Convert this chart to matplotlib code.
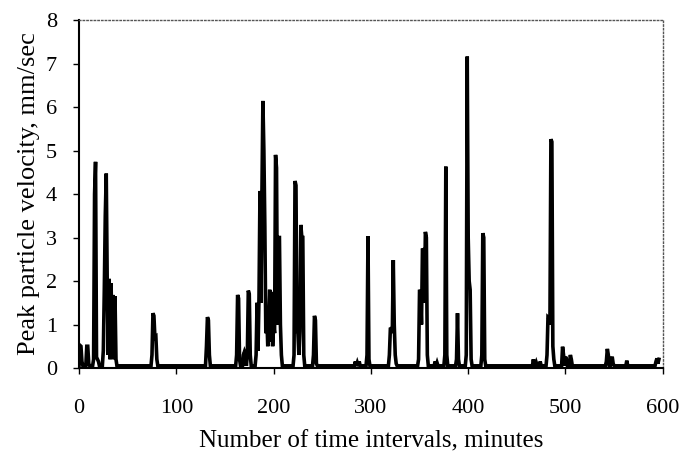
import numpy as np
import matplotlib.pyplot as plt

plt.rcParams['font.family'] = ['Liberation Serif', 'DejaVu Serif']

# readings above the quiet background level (minute, peak particle velocity mm/sec)
event_min = [1, 2, 3, 8, 9, 10,
             15, 16, 17, 18, 19, 20,
             25, 26, 27, 28, 29, 30, 31, 32, 33, 34, 35, 36, 37, 38,
             75, 76, 77, 78, 79, 80,
             131, 132, 133, 134,
             162, 163, 164, 165, 169, 170, 171, 173, 174, 175, 176,
             182, 183, 184, 185, 186, 187, 188, 189, 190, 191, 192, 193, 194,
             195, 196, 197, 198, 199, 200, 201, 202, 203, 204, 205, 206, 207, 208,
             221, 222, 223, 224, 225, 226, 227, 228, 229, 230, 231,
             241, 242, 243, 244,
             284, 286, 288,
             296, 297, 298,
             319, 320, 321, 322, 323, 324, 325, 326,
             349, 350, 351, 352, 353, 354, 355, 356, 357, 358,
             366, 368,
             376, 377, 378,
             388, 389, 390,
             398, 399, 400, 401, 402, 403,
             414, 415, 416, 417,
             467, 470, 474,
             481, 482, 483, 484, 485, 486, 487, 488,
             497, 498, 500, 501, 505, 506,
             542, 543, 544, 547, 548, 549,
             563,
             593, 594, 595, 596]
event_ppv = [0.52, 0.5, 0.15, 0.5, 0.5, 0.1,
             0.2, 4.0, 4.74, 0.25, 0.2, 0.15,
             0.4, 1.8, 3.5, 4.47, 2.0, 0.3, 2.05, 0.2, 1.95, 0.3, 1.68, 0.2, 1.65, 0.2,
             0.3, 1.26, 1.2, 0.7, 0.72, 0.2,
             0.5, 1.17, 1.1, 0.3,
             0.3, 1.68, 1.6, 0.2, 0.3, 0.37, 0.3, 0.3, 1.78, 1.7, 0.3,
             0.3, 1.5, 0.4, 1.64, 4.07, 1.5, 4.0, 6.14, 5.0, 3.25, 0.8, 1.2, 0.5,
             1.1, 1.8, 0.6, 1.75, 0.5, 1.0, 0.8, 4.9, 4.6, 1.0, 3.0, 3.0, 1.0, 0.3,
             0.3, 4.3, 4.2, 0.84, 0.8, 0.3, 0.84, 3.29, 3.0, 3.0, 0.3,
             0.3, 1.2, 1.1, 0.1,
             0.15, 0.12, 0.15,
             0.3, 3.03, 0.2,
             0.3, 0.9, 0.91, 0.8, 2.48, 1.0, 0.3, 0.1,
             0.2, 1.8, 1.75, 1.0, 2.75, 2.7, 1.5, 3.13, 3.0, 0.3,
             0.15, 0.12,
             0.3, 4.63, 0.3,
             0.2, 1.26, 0.2,
             0.3, 7.16, 3.0, 2.0, 1.8, 0.2,
             0.3, 3.1, 3.0, 0.2,
             0.2, 0.12, 0.15,
             0.3, 1.17, 1.15, 1.0, 5.26, 5.2, 0.5, 0.2,
             0.49, 0.3, 0.26, 0.2, 0.3, 0.2,
             0.15, 0.44, 0.3, 0.2, 0.26, 0.1,
             0.17,
             0.15, 0.22, 0.1, 0.2]
background = 0.05
last_min = 596

t = np.arange(last_min + 1)
v = np.full(t.size, background)
v[event_min] = event_ppv

fig = plt.figure(figsize=(6.84, 4.58), dpi=100)
ax = fig.add_axes([0.1155, 0.1965, 0.8535, 0.7598])
ax.plot(t, v, color='black', lw=2.6, solid_joinstyle='miter')

ax.set_xlim(0, 600)
ax.set_ylim(0, 8)
ax.set_xticks(np.arange(0, 601, 100))
ax.set_yticks(np.arange(0, 9, 1))
ax.tick_params(direction='out', length=4, width=1, labelsize=16, colors='black')
ax.tick_params(axis='x', pad=18)
ax.tick_params(axis='y', pad=12)

for s in ['top', 'right']:
    ax.spines[s].set_linestyle(':')
    ax.spines[s].set_color('#555555')
    ax.spines[s].set_linewidth(1)
for s in ['left', 'bottom']:
    ax.spines[s].set_linewidth(1.5)

ax.set_xlabel('Number of time intervals, minutes', fontsize=18, labelpad=9)
ax.set_ylabel('Peak particle velocity, mm/sec', fontsize=19, labelpad=4)

fig.savefig('out.png', dpi=100)
